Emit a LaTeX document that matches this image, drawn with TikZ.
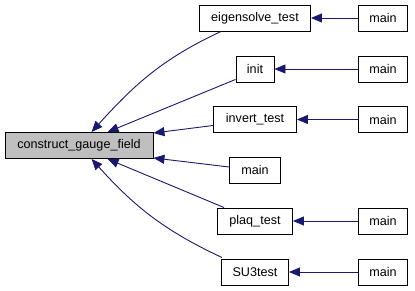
\documentclass[tikz,border=0pt]{standalone}
\usepackage{fontspec}
\setmainfont{Liberation Sans}
\usetikzlibrary{calc,arrows.meta}
\definecolor{edgeblue}{HTML}{191970}
\definecolor{hilite}{HTML}{BFBFBF}

\begin{document}
\begin{tikzpicture}[
    x=1pt, y=-1pt,
    fn/.style={draw, line width=0.9pt, fill=white, minimum height=26pt, inner sep=0pt, font=\fontsize{12.6}{14}\selectfont},
    arr/.style={edgeblue, line width=0.9pt, -{Triangle[length=11pt,width=9pt]}},
]
    \useasboundingbox (0,0) rectangle (415,291);

    % --- the function itself ---
    \node[fn, fill=hilite, minimum width=148pt] (cgf) at (79,145.5) {construct\_gauge\_field};

    % --- direct callers ---
    \node[fn, minimum width=111pt] (eig) at (255,18) {eigensolve\_test};
    \node[fn, minimum width=38pt] (init) at (255,69) {init};
    \node[fn, minimum width=83pt] (inv) at (255,119.5) {invert\_test};
    \node[fn, minimum width=51pt] (mainc) at (255,170) {main};
    \node[fn, minimum width=75pt] (plaq) at (255,221) {plaq\_test};
    \node[fn, minimum width=67pt] (su3) at (255,272) {SU3test};

    % --- callers of the callers ---
    \node[fn, minimum width=49pt] (m1) at (383,18) {main};
    \node[fn, minimum width=49pt] (m2) at (383,69) {main};
    \node[fn, minimum width=49pt] (m3) at (383,119.5) {main};
    \node[fn, minimum width=49pt] (m5) at (383,221) {main};
    \node[fn, minimum width=49pt] (m6) at (383,272) {main};

    % edges into construct_gauge_field
    \draw[arr] ($(eig.south west)+(22,0)$) to[out=205, in=48] ($(cgf.north west)+(87,0)$);
    \draw[arr] ($(init.south west)+(0,-3)$) -- ($(cgf.north west)+(103,0)$);
    \draw[arr] ($(inv.west)+(0,6)$) -- ($(cgf.north east)+(0,1)$);
    \draw[arr] ($(mainc.west)+(0,-3)$) -- ($(cgf.south east)+(0,-1)$);
    \draw[arr] ($(plaq.north west)+(7,0)$) -- ($(cgf.south west)+(103,0)$);
    \draw[arr] ($(su3.north west)+(1,-1)$) to[out=155, in=-48] ($(cgf.south west)+(87,0)$);

    % edges from the mains
    \foreach \src/\dst in {m1/eig, m2/init, m3/inv, m5/plaq, m6/su3}
        \draw[arr] (\src) -- (\dst);
\end{tikzpicture}
\end{document}
